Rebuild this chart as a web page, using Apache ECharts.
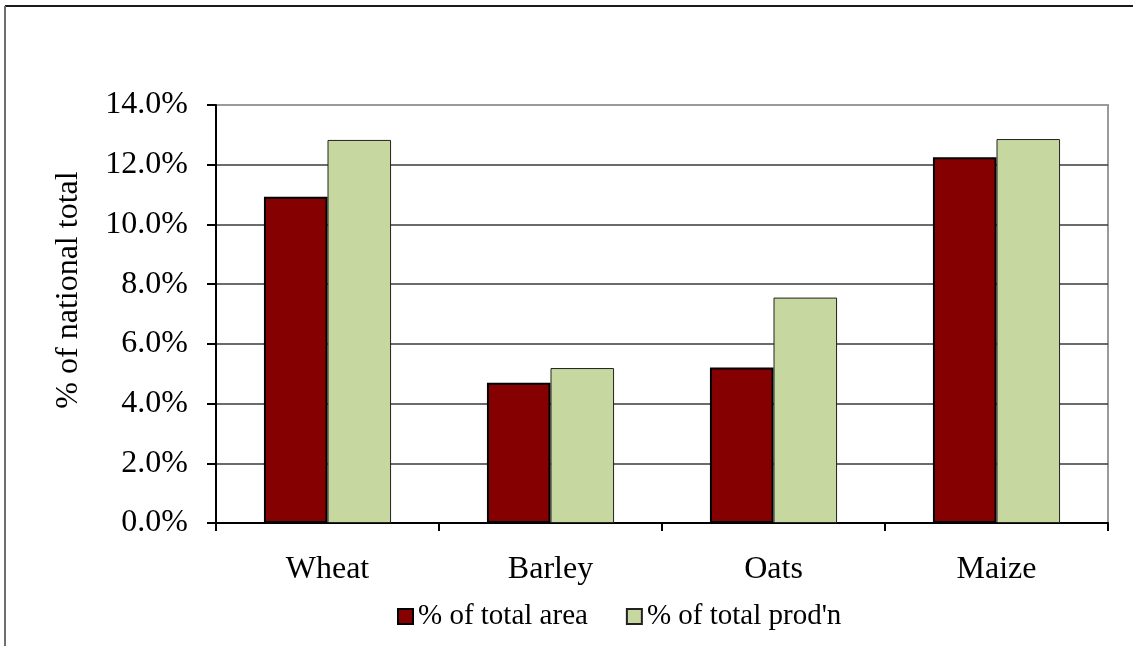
<!DOCTYPE html>
<html>
<head>
<meta charset="utf-8">
<script src="https://cdn.jsdelivr.net/npm/echarts@6/dist/echarts.min.js"></script>
<style>
  html, body { margin: 0; padding: 0; background: #fff; }
  #chart { width: 1133px; height: 646px; }
</style>
</head>
<body>
<div id="chart"></div>
<script>
// Crop shares of the national total
const categories = ['Wheat', 'Barley', 'Oats', 'Maize'];
const areaShare = [10.93, 4.70, 5.21, 12.25];
const prodShare = [12.83, 5.19, 7.55, 12.86];
const seriesNames = ['% of total area', "% of total prod'n"];
const yAxisTitle = '% of national total';

const FONT = "'Liberation Serif', 'Times New Roman', serif";
const FS = 32;        // axis labels and axis title
const FS_LEGEND = 29; // legend entries

const chart = echarts.init(document.getElementById('chart'), null, { renderer: 'canvas' });

chart.setOption({
  backgroundColor: '#fff',
  animation: false,
  textStyle: { fontFamily: FONT, color: '#000' },
  grid: {
    left: 216, top: 105, right: 25, bottom: 123,
    show: true, borderColor: '#9a9a9a', borderWidth: 2, backgroundColor: 'transparent'
  },
  legend: {
    left: 392, top: 597,
    itemWidth: 15, itemHeight: 15, itemGap: 38,
    icon: 'rect',
    textStyle: { fontFamily: FONT, fontSize: FS_LEGEND, color: '#000' },
    data: seriesNames
  },
  xAxis: {
    type: 'category',
    data: categories,
    axisLine: { show: true, lineStyle: { color: '#000', width: 2 } },
    axisTick: { show: true, length: 8, lineStyle: { color: '#000', width: 2 } },
    axisLabel: { fontFamily: FONT, fontSize: FS, color: '#000', margin: 31 }
  },
  yAxis: {
    type: 'value',
    min: 0, max: 14, interval: 2,
    axisLine: { show: true, lineStyle: { color: '#000', width: 2 } },
    axisTick: { show: true, length: 9, lineStyle: { color: '#000', width: 2 } },
    axisLabel: {
      fontFamily: FONT, fontSize: FS, color: '#000', margin: 28,
      formatter: v => v.toFixed(1) + '%'
    },
    splitLine: { show: true, showMaxLine: false, lineStyle: { color: '#3a3a3a', width: 1.5 } }
  },
  graphic: [
    // outer chart frame (top and left edges)
    { type: 'line', shape: { x1: 5, y1: 6, x2: 1133, y2: 6 }, style: { stroke: '#1a1a1a', lineWidth: 2 }, z: 100 },
    { type: 'line', shape: { x1: 5, y1: 6, x2: 5, y2: 646 }, style: { stroke: '#6e6e6e', lineWidth: 2 }, z: 100 },
    {
      type: 'text', x: 69, y: 290, rotation: Math.PI / 2,
      style: {
        text: yAxisTitle, font: FS + 'px ' + FONT, fill: '#000',
        textAlign: 'center', textVerticalAlign: 'middle'
      }
    }
  ],
  series: [
    {
      name: seriesNames[0], type: 'bar', data: areaShare,
      barGap: '0%', barCategoryGap: '43%',
      itemStyle: { color: '#850000', borderColor: '#000', borderWidth: 2 }
    },
    {
      name: seriesNames[1], type: 'bar', data: prodShare,
      barGap: '0%', barCategoryGap: '43%',
      itemStyle: { color: '#c6d8a0', borderColor: '#222', borderWidth: 1 }
    }
  ]
});
</script>
</body>
</html>
